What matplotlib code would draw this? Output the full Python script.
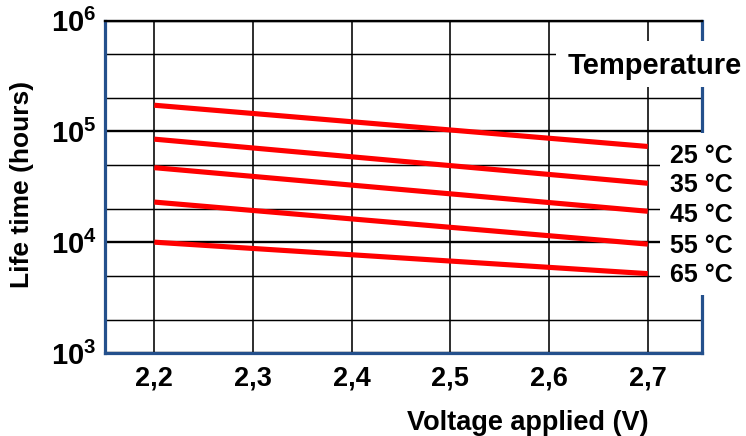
import matplotlib
matplotlib.use('Agg')
import matplotlib.pyplot as plt
from matplotlib.patches import Rectangle
from matplotlib.ticker import FixedLocator, NullFormatter

plt.rcParams['font.family'] = ['Liberation Sans', 'DejaVu Sans']
plt.rcParams['font.weight'] = 'bold'
plt.rcParams['mathtext.fontset'] = 'custom'
plt.rcParams['mathtext.rm'] = 'Liberation Sans:bold'
plt.rcParams['mathtext.bf'] = 'Liberation Sans:bold'
plt.rcParams['mathtext.it'] = 'Liberation Sans:bold'

# ---- data ----
voltage = [2.2, 2.7]
temperatures = ['25 °C', '35 °C', '45 °C', '55 °C', '65 °C']
life_25 = [1.72e5, 7.3e4]
life_35 = [8.5e4, 3.4e4]
life_45 = [4.7e4, 1.9e4]
life_55 = [2.3e4, 9.6e3]
life_65 = [1.0e4, 5.2e3]
series = [life_25, life_35, life_45, life_55, life_65]

x_ticks = [2.2, 2.3, 2.4, 2.5, 2.6, 2.7]
x_tick_labels = ['2,2', '2,3', '2,4', '2,5', '2,6', '2,7']
y_major = [1e3, 1e4, 1e5, 1e6]
y_tick_labels = [r'$\mathbf{10^{3}}$', r'$\mathbf{10^{4}}$', r'$\mathbf{10^{5}}$', r'$\mathbf{10^{6}}$']
y_minor = [2e3, 5e3, 2e4, 5e4, 2e5, 5e5]

# ---- layout ----
W, H = 746, 436
BLUE = '#24508c'
fig = plt.figure(figsize=(W / 100, H / 100), dpi=100)
ax = fig.add_axes([105 / W, 1 - 353 / H, (702 - 105) / W, (353 - 20.5) / H])
ax.set_yscale('log')
ax.set_xlim(2.15, 2.755)
ax.set_ylim(1e3, 1e6)

for vals in series:
    ax.plot(voltage, vals, color='#ff0000', lw=3.7, solid_capstyle='butt', zorder=3)

ax.set_xticks(x_ticks, x_tick_labels, fontsize=19.5, fontweight='bold')
ax.set_yticks(y_major, y_tick_labels, fontsize=21)
ax.yaxis.set_minor_locator(FixedLocator(y_minor))
ax.yaxis.set_minor_formatter(NullFormatter())
ax.tick_params(which='both', length=0)
ax.tick_params(axis='x', pad=9)
ax.tick_params(axis='y', pad=6)

ax.grid(which='major', axis='y', color='black', lw=1.7)
ax.grid(which='minor', axis='y', color='black', lw=1.05)
ax.grid(which='major', axis='x', color='black', lw=1.15)

for side in ['left', 'bottom', 'right']:
    ax.spines[side].set_color(BLUE)
    ax.spines[side].set_linewidth(2.3)
ax.spines['top'].set_color('black')
ax.spines['top'].set_linewidth(1.7)

# white boxes behind annotation text
fig.add_artist(Rectangle((556 / W, 1 - 87.5 / H), (W - 556) / W, (87.5 - 41.5) / H,
                         transform=fig.transFigure, facecolor='white', edgecolor='none', zorder=5))
fig.add_artist(Rectangle((660 / W, 1 - 295 / H), (W - 660) / W, (295 - 133) / H,
                         transform=fig.transFigure, facecolor='white', edgecolor='none', zorder=5))

fig.text(568 / W, 1 - 74 / H, 'Temperature', fontsize=21, fontweight='bold',
         ha='left', va='baseline', zorder=6)
label_baselines = [162.7, 192, 222, 252.7, 282]
for t, yb in zip(temperatures, label_baselines):
    fig.text(670 / W, 1 - yb / H, t, fontsize=18, fontweight='bold',
             ha='left', va='baseline', zorder=6)

fig.text(407 / W, 1 - 430 / H, 'Voltage applied (V)', fontsize=19.5, fontweight='bold',
         ha='left', va='baseline')
fig.text(22 / W, 1 - 184 / H, 'Life time (hours)', rotation=90, fontsize=19,
         fontweight='bold', ha='center', va='center')

fig.savefig('out.png', dpi=100)
